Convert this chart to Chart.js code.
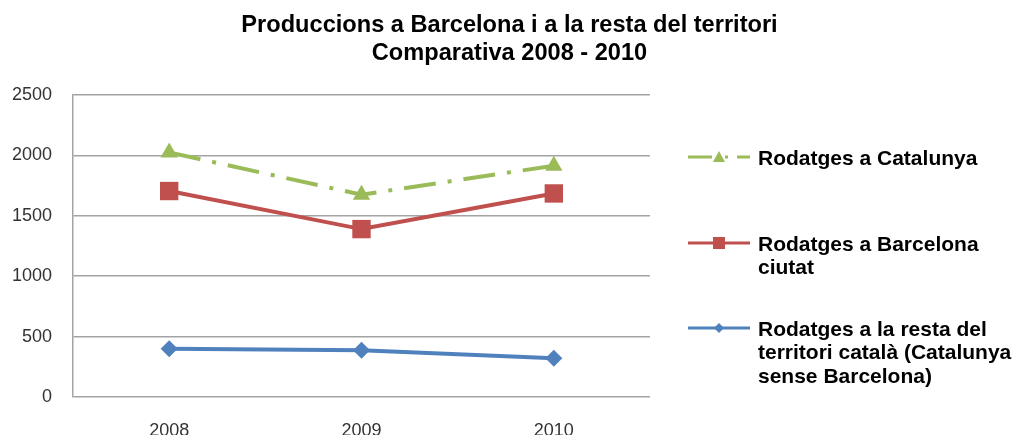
<!DOCTYPE html>
<html>
<head>
<meta charset="utf-8">
<script src="https://cdn.jsdelivr.net/npm/chart.js@4/dist/chart.umd.min.js"></script>
<style>
  html, body { margin: 0; padding: 0; background: #fff; }
</style>
</head>
<body>
<canvas id="prodChart" width="1019" height="435"></canvas>
<script>
// Data
const years = ["2008", "2009", "2010"];
const catalunyaValues = [2025, 1675, 1915];
const barcelonaValues = [1705, 1390, 1685];
const restaValues = [400, 388, 320];
const yTicks = [0, 500, 1000, 1500, 2000, 2500];

const titleLines = [
    "Produccions a Barcelona i a la resta del territori",
    "Comparativa 2008 - 2010"
];
const legendCatalunya = ["Rodatges a Catalunya"];
const legendBarcelona = ["Rodatges a Barcelona", "ciutat"];
const legendResta = ["Rodatges a la resta del", "territori català (Catalunya", "sense Barcelona)"];

const FONT = "'Liberation Sans', Arial, sans-serif";
const GREEN = "#9BBB59";
const RED = "#C0504D";
const BLUE = "#4F81BD";
const GRID = "#a3a3a3";

// Title centred on the whole canvas, legend on the right with wrapped labels
const decorations = {
    id: "decorations",
    afterDraw(chart) {
        const ctx = chart.ctx;
        ctx.save();

        ctx.fillStyle = "#000";
        ctx.font = "bold 23.6px " + FONT;
        ctx.textAlign = "center";
        ctx.textBaseline = "alphabetic";
        titleLines.forEach((line, i) => {
            ctx.fillText(line, chart.width / 2, 32 + i * 28);
        });

        const items = [
            { lines: legendCatalunya, color: GREEN, marker: "triangle", y: 157 },
            { lines: legendBarcelona, color: RED, marker: "square", y: 243 },
            { lines: legendResta, color: BLUE, marker: "diamond", y: 328 }
        ];
        items.forEach(item => {
            ctx.strokeStyle = item.color;
            ctx.fillStyle = item.color;
            ctx.lineWidth = 3;
            ctx.lineCap = "butt";
            ctx.beginPath();
            if (item.marker === "triangle") {
                // dash-dot sample line
                ctx.moveTo(688, item.y); ctx.lineTo(712, item.y);
                ctx.moveTo(725, item.y); ctx.lineTo(728, item.y);
                ctx.moveTo(737, item.y); ctx.lineTo(750, item.y);
            } else {
                ctx.moveTo(688, item.y); ctx.lineTo(750, item.y);
            }
            ctx.stroke();

            const mx = 719, my = item.y;
            ctx.beginPath();
            if (item.marker === "triangle") {
                ctx.moveTo(mx, my - 6);
                ctx.lineTo(mx + 6, my + 5);
                ctx.lineTo(mx - 6, my + 5);
                ctx.closePath();
            } else if (item.marker === "square") {
                ctx.rect(mx - 6, my - 6, 12, 12);
            } else {
                ctx.moveTo(mx, my - 5);
                ctx.lineTo(mx + 5, my);
                ctx.lineTo(mx, my + 5);
                ctx.lineTo(mx - 5, my);
                ctx.closePath();
            }
            ctx.fill();

            ctx.fillStyle = "#000";
            ctx.font = "bold 21px " + FONT;
            ctx.textAlign = "left";
            item.lines.forEach((line, i) => {
                ctx.fillText(line, 758, item.y + 7.5 + i * 23.5);
            });
        });
        ctx.restore();
    }
};

new Chart(document.getElementById("prodChart"), {
    type: "line",
    data: {
        labels: years,
        datasets: [
            {
                label: legendCatalunya.join(" "),
                data: catalunyaValues,
                borderColor: GREEN,
                backgroundColor: GREEN,
                borderWidth: 4,
                borderDash: [32, 12, 4, 12],
                borderCapStyle: "butt",
                pointStyle: "triangle",
                pointRadius: 10,
                pointBorderWidth: 0,
                tension: 0
            },
            {
                label: legendBarcelona.join(" "),
                data: barcelonaValues,
                borderColor: RED,
                backgroundColor: RED,
                borderWidth: 4,
                pointStyle: "rect",
                pointRadius: 13,
                pointBorderWidth: 0,
                tension: 0
            },
            {
                label: legendResta.join(" "),
                data: restaValues,
                borderColor: BLUE,
                backgroundColor: BLUE,
                borderWidth: 4,
                pointStyle: "rectRot",
                pointRadius: 8.5,
                pointBorderWidth: 0,
                tension: 0
            }
        ]
    },
    options: {
        responsive: false,
        animation: false,
        devicePixelRatio: 1,
        layout: {
            padding: { left: 0, right: 369, top: 95, bottom: 0 }
        },
        plugins: {
            legend: { display: false },
            tooltip: { enabled: false },
            title: { display: false }
        },
        scales: {
            x: {
                offset: true,
                grid: { display: false },
                border: { display: false },
                ticks: {
                    color: "#333",
                    padding: 15,
                    font: { family: FONT, size: 18 },
                    maxRotation: 0
                },
                afterFit: scale => { scale.height = 38; }
            },
            y: {
                min: 0,
                max: 2500,
                afterBuildTicks: scale => {
                    scale.ticks = yTicks.map(v => ({ value: v }));
                },
                grid: { color: GRID, lineWidth: 1.5, drawTicks: false },
                border: { display: true, color: GRID, width: 1.5 },
                ticks: {
                    color: "#333",
                    padding: 21,
                    font: { family: FONT, size: 18 },
                    callback: value => String(value)
                },
                afterFit: scale => { scale.width = 73; }
            }
        }
    },
    plugins: [decorations]
});
</script>
</body>
</html>
